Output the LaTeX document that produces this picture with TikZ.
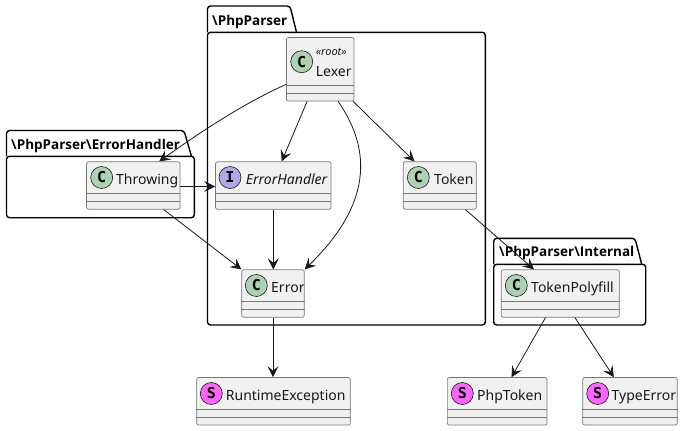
\documentclass[tikz,border=0pt]{standalone}
\usepackage{fontspec}
\setmainfont{Noto Sans}
\newfontfamily\badgefont{DejaVu Sans Mono}
\newfontfamily\pkgfont{Open Sans}
\usetikzlibrary{arrows.meta, positioning, calc}
\definecolor{boxfill}{RGB}{241,241,241}
\definecolor{boxline}{RGB}{120,120,120}
\definecolor{inkline}{RGB}{24,24,24}
\definecolor{classgreen}{RGB}{173,209,178}
\definecolor{ifacepurple}{RGB}{180,167,229}
\definecolor{structpink}{RGB}{255,102,255}
\tikzset{
  classbox/.style={draw=boxline, fill=boxfill, line width=0.7pt, rounded corners=2pt, inner sep=0pt},
  badge/.style={circle, draw=inkline, line width=0.6pt, minimum size=22pt, inner sep=0pt, font=\badgefont\fontsize{15}{15}\selectfont\bfseries, text=black},
  classlabel/.style={anchor=base west, inner sep=0pt, text=inkline, font=\fontsize{14}{16}\selectfont},
  pkgline/.style={draw=black, line width=1.4pt, rounded corners=3pt},
  pkglabel/.style={anchor=base west, inner sep=0pt, text=black, font=\pkgfont\fontsize{13.5}{16}\selectfont\bfseries},
  link/.style={draw=inkline, line width=0.8pt, -{Stealth[length=11pt, width=11pt, inset=4.5pt]}}
}
\begin{document}
\begin{tikzpicture}[x=1pt, y=-1pt]
  \useasboundingbox (0,0) rectangle (683,431);
  % Packages
  \draw[pkgline] (207.5,32.3) -- (207.5,6) -- (290,6) -- (296.5,32.3);
  \draw[pkgline] (207.5,32.3) rectangle (485.3,325);
  \node[pkglabel] (pkgroot) at (212,25) {\textbackslash PhpParser};
  \draw[pkgline] (6.5,156.3) -- (6.5,130.5) -- (184,130.5) -- (191.5,156.3);
  \draw[pkgline] (6.5,156.3) rectangle (194.3,217.7);
  \node[pkglabel] (pkgerror) at (11,149) {\textbackslash PhpParser\textbackslash ErrorHandler};
  \draw[pkgline] (493.7,264.3) -- (493.7,238.3) -- (635,238.3) -- (641.7,264.3);
  \draw[pkgline] (493.7,264.3) rectangle (645.7,325);
  \node[pkglabel] (pkginternal) at (499,256.7) {\textbackslash PhpParser\textbackslash Internal};
  % Boxes
  \node[classbox, minimum width=67.5pt, minimum height=63.5pt] (lexer) at (320.2,69.3) {};
  \node[classbox, minimum width=93.5pt, minimum height=47.5pt] (throwing) at (133.3,185.5) {};
  \node[classbox, minimum width=115.5pt, minimum height=47.5pt] (handler) at (273.3,185.5) {};
  \node[classbox, minimum width=73pt, minimum height=47.5pt] (token) at (439.8,185.5) {};
  \node[classbox, minimum width=62.6pt, minimum height=47.5pt] (error) at (273,293.5) {};
  \node[classbox, minimum width=118pt, minimum height=47.5pt] (polyfill) at (560.3,293.5) {};
  \node[classbox, minimum width=153.6pt, minimum height=47.5pt] (runtime) at (273.5,401.3) {};
  \node[classbox, minimum width=99.7pt, minimum height=47.5pt] (phptoken) at (497.2,401.3) {};
  \node[classbox, minimum width=94.6pt, minimum height=47.5pt] (typeerror) at (630,401.3) {};
  \foreach \boxname in {lexer,throwing,handler,token,error,polyfill,runtime,phptoken,typeerror} {
    \draw[boxline, line width=0.7pt] ([yshift=16pt]\boxname.south west) -- ([yshift=16pt]\boxname.south east);
    \draw[boxline, line width=0.7pt] ([yshift=8pt]\boxname.south west) -- ([yshift=8pt]\boxname.south east);
  }
  % Badges
  \node[badge, fill=classgreen] (lexerbadge) at (301.7,61.7) {C};
  \node[badge, fill=classgreen] (throwingbadge) at (101.7,177.5) {C};
  \node[badge, fill=ifacepurple] (handlerbadge) at (230,177.5) {I};
  \node[badge, fill=classgreen] (tokenbadge) at (418.3,177.5) {C};
  \node[badge, fill=classgreen] (errorbadge) at (256.3,285.5) {C};
  \node[badge, fill=classgreen] (polyfillbadge) at (516.3,285.5) {C};
  \node[badge, fill=structpink] (runtimebadge) at (211.3,393.5) {S};
  \node[badge, fill=structpink] (phptokenbadge) at (462.3,393.5) {S};
  \node[badge, fill=structpink] (typeerrorbadge) at (597.7,393.5) {S};
  % Labels
  \node[classlabel, font=\fontsize{11}{12}\selectfont\itshape] (lexerstereo) at (315.7,55) {«root»};
  \node[classlabel] (lexerlabel) at (315.7,76) {Lexer};
  \node[classlabel] (throwinglabel) at (116,184) {Throwing};
  \node[classlabel, font=\fontsize{14}{16}\selectfont\itshape] (handlerlabel) at (245.7,184) {ErrorHandler};
  \node[classlabel] (tokenlabel) at (434,184) {Token};
  \node[classlabel] (errorlabel) at (271,292) {Error};
  \node[classlabel] (polyfilllabel) at (531,292) {TokenPolyfill};
  \node[classlabel] (runtimelabel) at (225.7,400) {RuntimeException};
  \node[classlabel] (phptokenlabel) at (477,400) {PhpToken};
  \node[classlabel] (typeerrorlabel) at (611.5,400) {TypeError};
  % Connectors
  \draw[link] ([yshift=17pt]lexer.south west) .. controls +(-45,20) and +(35,-25) .. ([xshift=73pt]throwing.north west);
  \draw[link] ([xshift=21pt]lexer.south west) -- ([xshift=66.5pt]handler.north west);
  \draw[link] ([xshift=52pt]lexer.south west) .. controls +(34,49) and +(67,-65) .. (error.north east);
  \draw[link] ([xshift=67pt]lexer.south west) -- ([xshift=11.5pt]token.north west);
  \draw[link] ([yshift=-1pt]throwing.east) -- ([yshift=-1pt]handler.west);
  \draw[link] ([xshift=77.5pt]throwing.south west) -- (error.north west);
  \draw[link] (handler.south) -- (handler.south |- error.north);
  \draw[link] (error.south) -- (error.south |- runtime.north);
  \draw[link] ([xshift=62.5pt]token.south west) -- ([xshift=33pt]polyfill.north west);
  \draw[link] ([xshift=44.5pt]polyfill.south west) -- ([xshift=64.5pt]phptoken.north west);
  \draw[link] ([xshift=74pt]polyfill.south west) -- ([xshift=31.5pt]typeerror.north west);
\end{tikzpicture}
\end{document}
